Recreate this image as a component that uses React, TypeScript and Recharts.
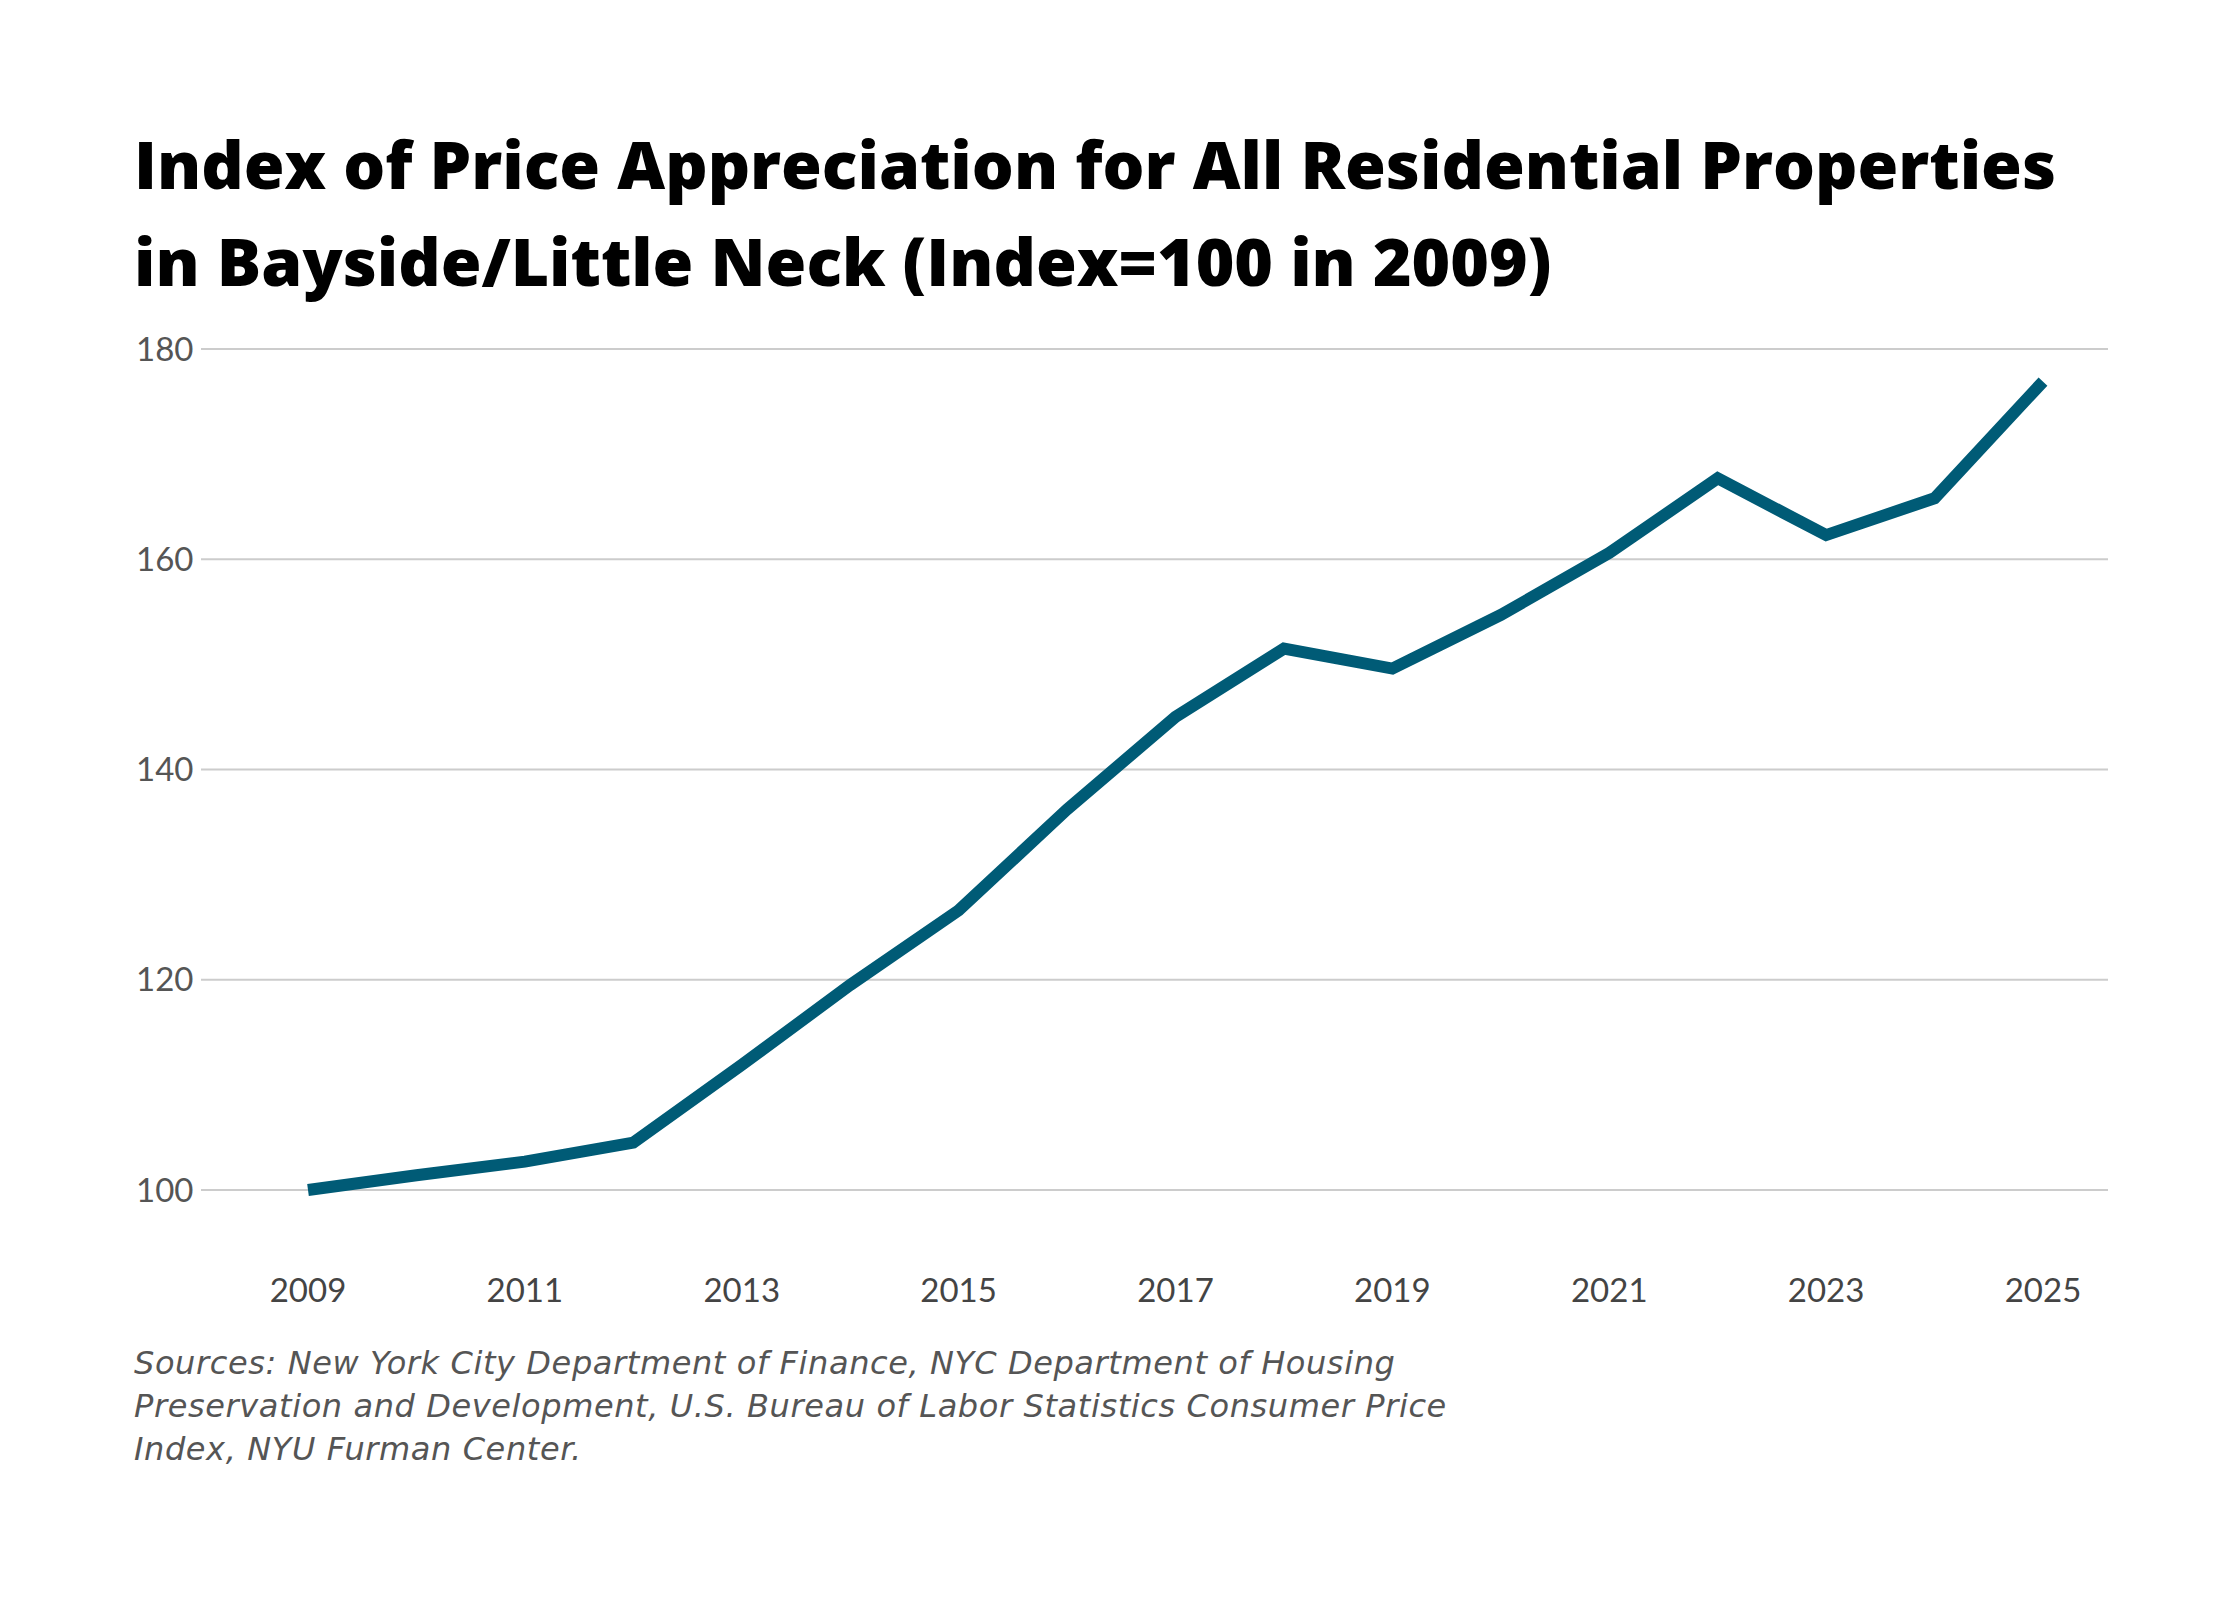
import React from "react";
import { LineChart, Line, XAxis, YAxis, CartesianGrid } from "recharts";

const years = [2009, 2010, 2011, 2012, 2013, 2014, 2015, 2016, 2017, 2018, 2019, 2020, 2021, 2022, 2023, 2024, 2025];
const indexValues = [100, 101.4, 102.7, 104.5, 111.9, 119.5, 126.6, 136.2, 145.0, 151.5, 149.6, 154.7, 160.6, 167.7, 162.3, 165.8, 176.9];
const yTicks = [100, 120, 140, 160, 180];
const xTicks = [2009, 2011, 2013, 2015, 2017, 2019, 2021, 2023, 2025];

const data = years.map((year, i) => ({ year, value: indexValues[i] }));

const tickFont = "Lato, 'Open Sans', sans-serif";

const YTick = ({ y, payload }: any) => (
  <text x={136} y={y} dy="0.35em" textAnchor="start" fill="#555" fontSize={33} fontFamily={tickFont}>
    {payload.value}
  </text>
);

const XTick = ({ x, payload }: any) => (
  <text x={x} y={1290} dy="0.35em" textAnchor="middle" fill="#444" fontSize={33} fontFamily={tickFont}>
    {payload.value}
  </text>
);

export default function App() {
  return (
    <div style={{ position: "absolute", left: 0, top: 0, width: 2240, height: 1600, background: "#fff" }}>
      <div
        style={{
          position: "absolute",
          left: 134,
          top: 115,
          fontFamily: "'Open Sans', sans-serif",
          fontWeight: 800,
          fontSize: 66,
          lineHeight: "97px",
          color: "#000",
          whiteSpace: "nowrap",
        }}
      >
        Index of Price Appreciation for All Residential Properties
        <br />
        in Bayside/Little Neck (Index=100 in 2009)
      </div>
      <div style={{ position: "absolute", left: 0, top: 0 }}>
        <LineChart width={2240} height={1340} data={data} margin={{ top: 349, right: 132, bottom: 0, left: 0 }}>
          <CartesianGrid vertical={false} stroke="#ccc" strokeWidth={2} />
          <XAxis
            dataKey="year"
            type="number"
            domain={[2009, 2025]}
            ticks={xTicks}
            padding={{ left: 107, right: 65 }}
            axisLine={false}
            tickLine={false}
            height={150}
            tick={<XTick />}
          />
          <YAxis
            domain={[100, 180]}
            ticks={yTicks}
            axisLine={false}
            tickLine={false}
            width={201}
            tick={<YTick />}
          />
          <Line
            dataKey="value"
            stroke="#005b76"
            strokeWidth={12}
            dot={false}
            isAnimationActive={false}
            strokeLinejoin="miter"
          />
        </LineChart>
      </div>
      <div
        style={{
          position: "absolute",
          left: 134,
          top: 1342,
          width: 1700,
          fontFamily: "'DejaVu Sans', sans-serif",
          fontStyle: "italic",
          fontWeight: 200,
          fontSize: 32,
          letterSpacing: "0.6px",
          lineHeight: "43px",
          color: "#555",
          whiteSpace: "nowrap",
        }}
      >
        Sources: New York City Department of Finance, NYC Department of Housing
        <br />
        Preservation and Development, U.S. Bureau of Labor Statistics Consumer Price
        <br />
        Index, NYU Furman Center.
      </div>
    </div>
  );
}
